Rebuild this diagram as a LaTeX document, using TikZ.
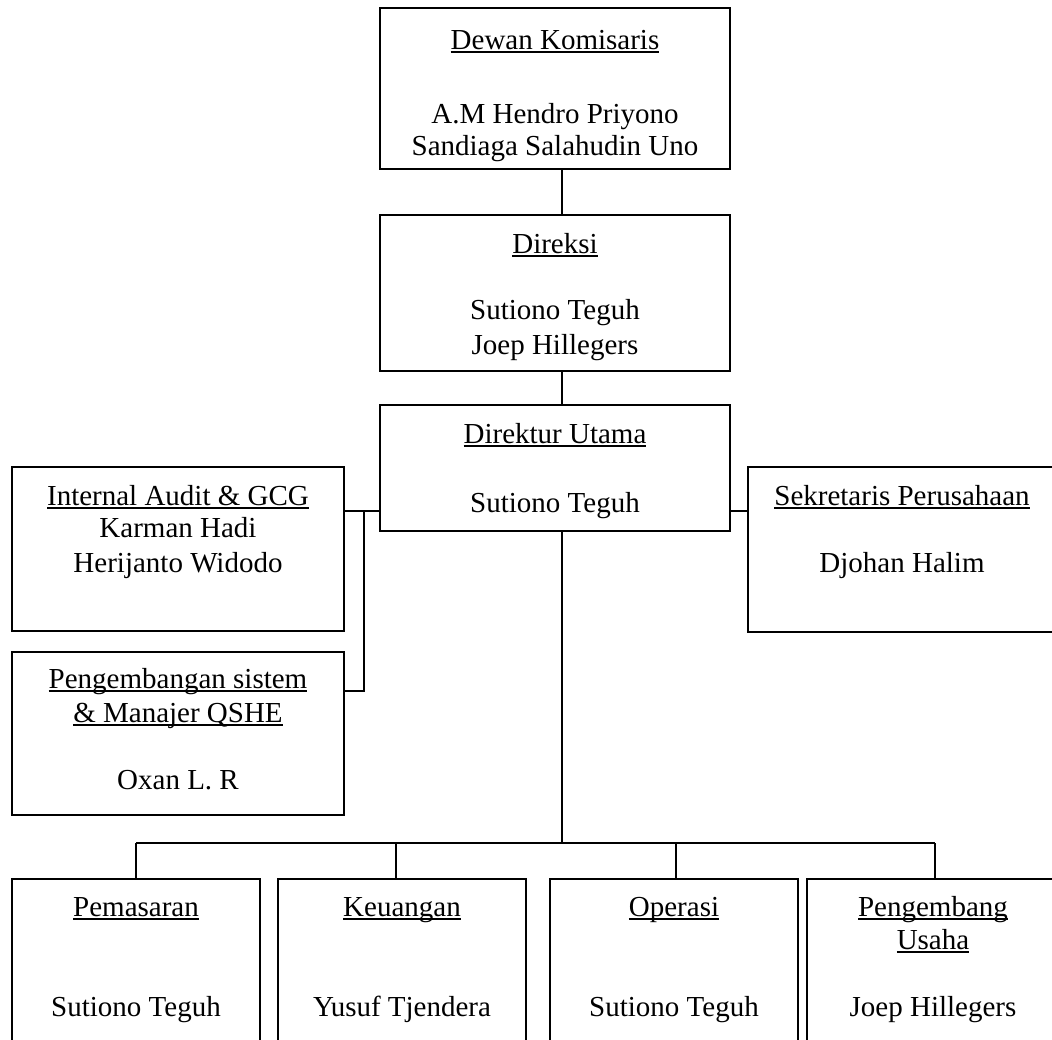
\documentclass[tikz,border=0pt]{standalone}
\usepackage{fontspec}
\setmainfont{Liberation Serif}
% underlined heading: a rule just under the baseline, crossing descenders
\newcommand{\ulword}[1]{\leavevmode\setbox0\hbox{#1}\rlap{\rule[-3.6pt]{\wd0}{1.7pt}}\box0}
\begin{document}
\begin{tikzpicture}[x=1pt,y=-1pt,
  unit/.style={draw, line width=1.9pt, inner sep=0pt, outer sep=0pt, anchor=north west},
  txt/.style={anchor=base, inner sep=0pt, font=\fontsize{29}{33}\selectfont},
  link/.style={line width=1.9pt}]
\clip (0,0) rectangle (1052,1039);

% boxes
\node[unit, minimum width=350pt, minimum height=161pt] (dewan) at (380,8) {};
\node[unit, minimum width=350pt, minimum height=156pt] (direksi) at (380,215) {};
\node[unit, minimum width=350pt, minimum height=126pt] (du) at (380,405) {};
\node[unit, minimum width=332pt, minimum height=164pt] (ia) at (12,467) {};
\node[unit, minimum width=332pt, minimum height=163pt] (peng) at (12,652) {};
\node[unit, minimum width=330pt, minimum height=165pt] (sek) at (748,467) {};
\node[unit, minimum width=248pt, minimum height=200pt] (pem) at (12,879) {};
\node[unit, minimum width=248pt, minimum height=200pt] (keu) at (278,879) {};
\node[unit, minimum width=248pt, minimum height=200pt] (ops) at (550,879) {};
\node[unit, minimum width=260pt, minimum height=200pt] (pu) at (807,879) {};

% texts
\node[txt] (tdewan) at (555,49) {\ulword{Dewan Komisaris}};
\node[txt] (tdewan1) at (555,123) {A.M Hendro Priyono};
\node[txt] (tdewan2) at (555,155) {Sandiaga Salahudin Uno};

\node[txt] (tdir) at (555,253) {\ulword{Direksi}};
\node[txt] (tdir1) at (555,319) {Sutiono Teguh};
\node[txt] (tdir2) at (555,354) {Joep Hillegers};

\node[txt] (tdu) at (555,443) {\ulword{Direktur Utama}};
\node[txt] (tdu1) at (555,512) {Sutiono Teguh};

\node[txt] (tia) at (178,505) {\ulword{Internal Audit \& GCG}};
\node[txt] (tia1) at (178,537) {Karman Hadi};
\node[txt] (tia2) at (178,572) {Herijanto Widodo};

\node[txt] (tpeng) at (178,688) {\ulword{Pengembangan sistem}};
\node[txt] (tpeng1) at (178,722) {\ulword{\& Manajer QSHE}};
\node[txt] (tpeng2) at (178,789) {Oxan L. R};

\node[txt] (tsek) at (902,505) {\ulword{Sekretaris Perusahaan}};
\node[txt] (tsek1) at (902,572) {Djohan Halim};

\node[txt] (tpem) at (136,916) {\ulword{Pemasaran}};
\node[txt] (tpem1) at (136,1016) {Sutiono Teguh};
\node[txt] (tkeu) at (402,916) {\ulword{Keuangan}};
\node[txt] (tkeu1) at (402,1016) {Yusuf Tjendera};
\node[txt] (tops) at (674,916) {\ulword{Operasi}};
\node[txt] (tops1) at (674,1016) {Sutiono Teguh};
\node[txt] (tpu) at (933,916) {\ulword{Pengembang}};
\node[txt] (tpu1) at (933,949) {\ulword{Usaha}};
\node[txt] (tpu2) at (933,1016) {Joep Hillegers};

% connector points
\coordinate (spine) at (562,0);
\coordinate (jn) at (364,511);
\coordinate (jb) at (364,691);
\coordinate (b1) at (136,843);
\coordinate (b2) at (396,843);
\coordinate (b3) at (676,843);
\coordinate (b4) at (935,843);

% main chain
\draw[link] (dewan.south -| spine) -- (direksi.north -| spine);
\draw[link] (direksi.south -| spine) -- (du.north -| spine);
\draw[link] (du.south -| spine) -- (spine |- b1);

% staff units beside the president director
\draw[link] (ia.east |- jn) -- (du.west |- jn);
\draw[link] (jn) -- (jb) -- (peng.east |- jb);
\draw[link] (du.east |- jn) -- (sek.west |- jn);

% divisions
\draw[link] (b1) -- (b4);
\draw[link] (b1) -- (b1 |- pem.north);
\draw[link] (b2) -- (b2 |- keu.north);
\draw[link] (b3) -- (b3 |- ops.north);
\draw[link] (b4) -- (b4 |- pu.north);
\end{tikzpicture}
\end{document}
